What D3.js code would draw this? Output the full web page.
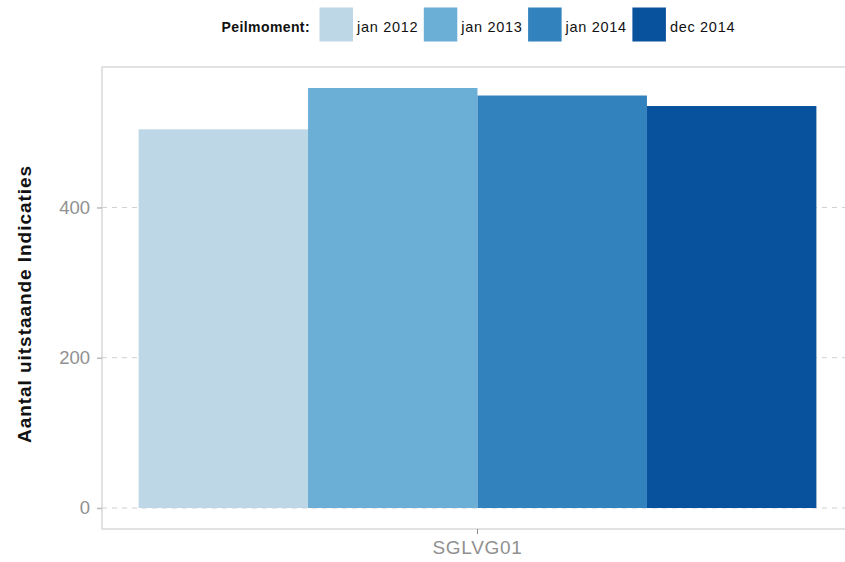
<!DOCTYPE html>
<html>
<head>
<meta charset="utf-8">
<script src="https://cdn.jsdelivr.net/npm/d3@7"></script>
<style>
  body { margin: 0; background: #fff; }
  svg { display: block; font-family: "Liberation Sans", Arial, sans-serif; }
</style>
</head>
<body>
<svg id="chart" width="845" height="562"></svg>
<script>
const categories = ["SGLVG01"];
const peilmomenten = ["jan 2012", "jan 2013", "jan 2014", "dec 2014"];
const values = [504, 559, 549, 535];
const colors = ["#bdd7e7", "#6baed6", "#3182bd", "#08519c"];
const yTicks = [0, 200, 400];

const svg = d3.select("#chart");
const margin = { top: 67, right: -8, bottom: 33, left: 102 };
const width = +svg.attr("width");
const height = +svg.attr("height");
const innerW = width - margin.left - margin.right;
const innerH = height - margin.top - margin.bottom;

const rows = peilmomenten.map((p, i) => ({ cat: categories[0], key: p, value: values[i] }));

const maxV = d3.max(values);
const y = d3.scaleLinear()
  .domain([-0.05 * maxV, maxV * 1.05])
  .range([innerH, 0]);

const x0 = d3.scaleBand()
  .domain(categories)
  .range([0, innerW])
  .paddingInner(0)
  .paddingOuter(0.054);

const x1 = d3.scaleBand()
  .domain(peilmomenten)
  .range([0, x0.bandwidth()])
  .padding(0);

const color = d3.scaleOrdinal().domain(peilmomenten).range(colors);

const g = svg.append("g").attr("transform", `translate(${margin.left},${margin.top})`);

// grid
g.append("g")
  .selectAll("line")
  .data(yTicks)
  .join("line")
  .attr("x1", 0)
  .attr("x2", innerW)
  .attr("y1", d => y(d))
  .attr("y2", d => y(d))
  .attr("stroke", "#cfcfcf")
  .attr("stroke-dasharray", "5,5");

// bars
g.append("g")
  .selectAll("rect")
  .data(rows)
  .join("rect")
  .attr("x", d => x0(d.cat) + x1(d.key))
  .attr("width", x1.bandwidth())
  .attr("y", d => y(d.value))
  .attr("height", d => y(0) - y(d.value))
  .attr("fill", d => color(d.key));

// panel border
g.append("rect")
  .attr("x", 0)
  .attr("y", 0)
  .attr("width", innerW)
  .attr("height", innerH)
  .attr("fill", "none")
  .attr("stroke", "#d9d9d9")
  .attr("stroke-width", 1.5);

// y axis
const yAxis = g.append("g")
  .call(d3.axisLeft(y).tickValues(yTicks).tickSize(5).tickPadding(7));
yAxis.select(".domain").remove();
yAxis.selectAll(".tick line").attr("stroke", "#bbbbbb").attr("stroke-width", 1.5);
yAxis.selectAll(".tick text")
  .attr("fill", "#909090")
  .attr("font-size", 18.5)
  .attr("font-family", "\"Liberation Sans\", Arial, sans-serif");

// x axis
const xAxis = g.append("g")
  .attr("transform", `translate(0,${innerH})`)
  .call(d3.axisBottom(x0).tickSize(5).tickPadding(7));
xAxis.select(".domain").remove();
xAxis.selectAll(".tick line").attr("stroke", "#8c8c8c");
xAxis.selectAll(".tick text")
  .attr("fill", "#909090")
  .attr("font-size", 19)
  .attr("letter-spacing", 0.7)
  .attr("font-family", "\"Liberation Sans\", Arial, sans-serif");

// y title
svg.append("text")
  .attr("transform", `translate(31,${margin.top + innerH / 2 + 6}) rotate(-90)`)
  .attr("text-anchor", "middle")
  .attr("font-size", 19)
  .attr("font-weight", "bold")
  .attr("letter-spacing", 0.95)
  .attr("fill", "#111")
  .text("Aantal uitstaande Indicaties");

// legend
const legend = svg.append("g");
legend.append("text")
  .attr("x", 310)
  .attr("y", 32)
  .attr("text-anchor", "end")
  .attr("font-size", 14)
  .attr("font-weight", "bold")
  .attr("letter-spacing", 0.4)
  .attr("fill", "#111")
  .text("Peilmoment:");

const items = legend.selectAll("g.item")
  .data(peilmomenten)
  .join("g")
  .attr("class", "item")
  .attr("transform", (d, i) => `translate(${319.5 + i * 104.3},7.5)`);

items.append("rect")
  .attr("width", 33.5)
  .attr("height", 34)
  .attr("fill", d => color(d));

items.append("text")
  .attr("x", 37.5)
  .attr("y", 24.5)
  .attr("font-size", 14.5)
  .attr("letter-spacing", 0.7)
  .attr("fill", "#111")
  .text(d => d);
</script>
</body>
</html>
